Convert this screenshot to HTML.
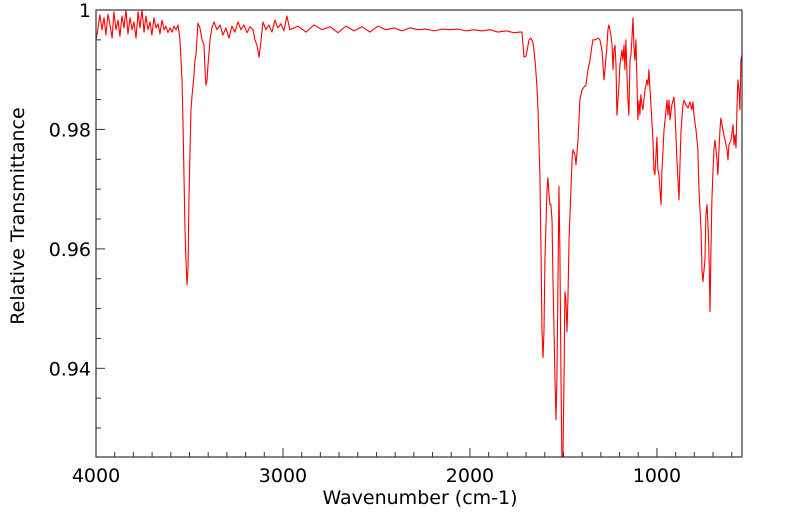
<!DOCTYPE html>
<html><head><meta charset="utf-8"><style>
html,body{margin:0;padding:0;background:#fff}
svg{display:block;font-family:"DejaVu Sans","Liberation Sans",sans-serif}
</style></head><body>
<svg id="chart" width="799" height="516"></svg>
<script>
const wavenumbers=[4000,3989,3979,3968,3957,3947,3936,3925,3914,3904,3893,3882,3872,3861,3850,3840,3829,3818,3807,3797,3786,3775,3765,3754,3743,3733,3722,3711,3701,3690,3679,3668,3658,3647,3636,3626,3615,3604,3593,3583,3572,3561,3551,3540,3535,3529,3524,3519,3513,3508,3503,3497,3492,3487,3476,3471,3465,3455,3444,3433,3422,3417,3412,3406,3401,3390,3380,3369,3353,3337,3321,3305,3289,3273,3257,3241,3225,3209,3192,3176,3160,3150,3139,3128,3117,3107,3091,3075,3059,3043,3027,3011,2995,2979,2963,2920,2877,2834,2791,2749,2706,2663,2620,2577,2535,2492,2449,2406,2364,2321,2278,2235,2192,2150,2107,2064,2021,1978,1936,1893,1850,1807,1765,1732,1722,1711,1700,1684,1674,1663,1652,1642,1636,1626,1620,1615,1609,1604,1599,1588,1583,1577,1572,1567,1561,1556,1545,1540,1535,1529,1524,1519,1513,1508,1503,1497,1492,1487,1481,1476,1470,1460,1454,1449,1438,1433,1422,1412,1401,1390,1380,1369,1358,1347,1342,1331,1315,1305,1294,1283,1278,1267,1262,1257,1246,1240,1235,1230,1224,1219,1214,1203,1198,1187,1182,1176,1171,1166,1160,1155,1150,1144,1139,1134,1128,1123,1118,1112,1107,1102,1096,1091,1086,1080,1075,1064,1053,1048,1043,1037,1032,1021,1016,1011,1005,1000,995,989,978,973,962,951,946,941,935,930,920,909,904,893,882,876,871,861,855,845,834,823,813,807,802,791,781,775,764,759,754,743,738,732,727,722,716,711,706,700,695,690,684,679,674,668,663,658,652,647,636,625,620,615,604,593,588,583,577,572,567,561,556,551,545];
const transmittance=[.9950,.9970,.9992,.9967,.9987,.9958,.9993,.9975,.9953,.9997,.9967,.9983,.9956,.9990,.9970,1.0,.9960,.9987,.9967,.9980,.9953,.9997,.9970,1.0,.9963,.9990,.9967,.9980,.9958,.9987,.9970,.9977,.9960,.9983,.9967,.9973,.9962,.9970,.9963,.9973,.9967,.9975,.9950,.9883,.9816,.9715,.9632,.9582,.9540,.9565,.9682,.9766,.9833,.9854,.9891,.9916,.9925,.9978,.9970,.9950,.9941,.9900,.9874,.9883,.9908,.9950,.9970,.9980,.9967,.9975,.9958,.9970,.9953,.9973,.9963,.9980,.9967,.9975,.9962,.9972,.9967,.9950,.9941,.9921,.9950,.9980,.9967,.9975,.9963,.9983,.9970,.9977,.9965,.9990,.9967,.9973,.9963,.9975,.9967,.9972,.9962,.9973,.9965,.9972,.9963,.9973,.9967,.9970,.9965,.9970,.9967,.9968,.9965,.9968,.9967,.9968,.9965,.9967,.9965,.9967,.9963,.9965,.9962,.9963,.9963,.9921,.9923,.9950,.9953,.9946,.9916,.9874,.9833,.9724,.9598,.9464,.9418,.9464,.9582,.9699,.9719,.9690,.9674,.9674,.9649,.9548,.9381,.9314,.9381,.9548,.9705,.9598,.9381,.9238,.9238,.9381,.9528,.9515,.9461,.9515,.9615,.9699,.9749,.9766,.9757,.9741,.9782,.9849,.9866,.9871,.9874,.9900,.9916,.9941,.9950,.9950,.9953,.9950,.9933,.9883,.9900,.9941,.9967,.9975,.9958,.9941,.9900,.9933,.9941,.9908,.9824,.9874,.9908,.9933,.9916,.9941,.9900,.9950,.9891,.9849,.9824,.9916,.9925,.9950,.9987,.9941,.9916,.9950,.9883,.9816,.9849,.9824,.9858,.9841,.9833,.9866,.9883,.9874,.9900,.9866,.9841,.9782,.9732,.9724,.9757,.9787,.9732,.9724,.9674,.9732,.9799,.9833,.9849,.9824,.9849,.9816,.9841,.9854,.9833,.9749,.9682,.9749,.9799,.9841,.9849,.9841,.9836,.9846,.9833,.9846,.9824,.9799,.9766,.9699,.9632,.9565,.9545,.9582,.9657,.9674,.9640,.9598,.9495,.9598,.9682,.9732,.9766,.9782,.9766,.9749,.9724,.9766,.9799,.9819,.9808,.9799,.9782,.9766,.9749,.9774,.9782,.9808,.9774,.9791,.9769,.9833,.9883,.9866,.9833,.9916,.9925];
const xTickLabels=[4000,3000,2000,1000];
const yTickLabels=[1,0.98,0.96,0.94];
const yLabelText=["1","0.98","0.96","0.94"];

const L=96,R=742,T=10,B=457;
const XMAX=4000,XMIN=545,YMAX=1.0,YMIN=0.92515;
function sx(w){return L+(XMAX-w)/(XMAX-XMIN)*(R-L);}
function sy(v){return T+(YMAX-v)/(YMAX-YMIN)*(B-T);}
const NS="http://www.w3.org/2000/svg";
const svg=document.getElementById('chart');
function mk(tag,attrs,parent){const e=document.createElementNS(NS,tag);for(const k in attrs)e.setAttribute(k,attrs[k]);(parent||svg).appendChild(e);return e;}

const defs=mk('defs',{});
const cp=mk('clipPath',{id:'plotclip'},defs);
mk('rect',{x:L,y:T,width:R-L,height:B-T},cp);

const bg=mk('rect',{x:L,y:T,width:R-L,height:B-T,fill:'#fff'});



let d='';
for(let i=0;i<wavenumbers.length;i++){d+=(i?'L':'M')+sx(wavenumbers[i]).toFixed(2)+','+sy(transmittance[i]).toFixed(2);}
const line=mk('path',{d:d,fill:'none',stroke:'#ff0000','stroke-width':1.1,'clip-path':'url(#plotclip)','stroke-linejoin':'round'});



const frame=mk('rect',{x:L,y:T,width:R-L,height:B-T,fill:'none',stroke:'#333','stroke-width':1.2});



const xt=mk('g',{});


for(let w=4000;w>=XMIN;w-=100){
  const major=(w%1000===0);const x=sx(w);
  mk('line',{x1:x,x2:x,y1:B,y2:B-(major?9:5),stroke:'#333','stroke-width':1},xt);
}
xTickLabels.forEach(v=>{
  const t=mk('text',{x:sx(v),y:B+25,'text-anchor':'middle','font-size':19,fill:'#000'},xt);
  t.textContent=v;
  
  
});
const yt=mk('g',{});


for(let k=0;k<=15;k++){
  const v=1-k*0.005;if(v<YMIN)break;
  const major=(k%4===0);const y=sy(v);
  mk('line',{x1:L,x2:L+(major?9:5),y1:y,y2:y,stroke:'#333','stroke-width':1},yt);
}
yTickLabels.forEach((v,i)=>{
  const t=mk('text',{x:L-5,y:sy(v)+7,'text-anchor':'end','font-size':19,fill:'#000'},yt);
  t.textContent=yLabelText[i];
  
  
});
const xtitle=mk('text',{x:420,y:504,'text-anchor':'middle','font-size':19,fill:'#000'});
xtitle.textContent='Wavenumber (cm-1)';


const ytitle=mk('text',{x:0,y:0,'text-anchor':'middle','font-size':19,fill:'#000',transform:'translate(24,216) rotate(-90)'});
ytitle.textContent='Relative Transmittance';


</script>
</body></html>
